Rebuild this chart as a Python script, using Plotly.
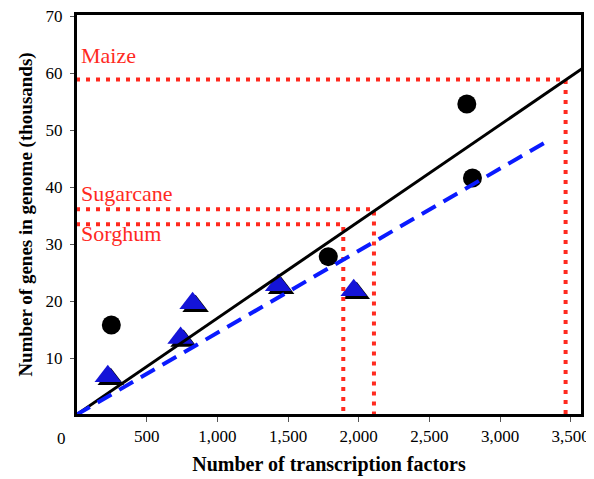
import plotly.graph_objects as go

# ---- data ----
circle_tf = [250, 1785, 2765, 2805]
circle_genes = [15.8, 27.8, 54.6, 41.6]

triangle_tf = [225, 740, 825, 1430, 1965]
triangle_genes = [6.8, 13.5, 19.6, 22.8, 21.9]

fit_all_x = [0, 3580]
fit_all_y = [0, 60.8]
fit_tri_x = [0, 3350]
fit_tri_y = [0, 48.3]

crop_names = ["Maize", "Sugarcane", "Sorghum"]
crop_tf = [3464, 2108, 1891]
crop_genes = [58.9, 36.1, 33.5]
label_y = [63.2, 38.9, 31.8]

x_ticks = [500, 1000, 1500, 2000, 2500, 3000, 3500]
x_tick_text = ["500", "1,000", "1,500", "2,000", "2,500", "3,000", "3,500"]
y_ticks = [10, 20, 30, 40, 50, 60, 70]

X_RANGE = [0, 3580]
Y_RANGE = [0, 70.4]
# page body has an 8px margin, so the figure is shrunk by 8px and margins shifted
W, H = 586, 471
ML, MR, MT, MB = 68, 12, 6, 64

FONT = "Liberation Serif"
RED = "#ff2a1f"
BLUE = "#0a1aff"

# pixel offset of the triangle shadow, converted to data units
px_x = (X_RANGE[1] - X_RANGE[0]) / (W - ML - MR)
px_y = (Y_RANGE[1] - Y_RANGE[0]) / (H - MT - MB)
shadow_x = [v + 3 * px_x for v in triangle_tf]
shadow_y = [v - 3 * px_y for v in triangle_genes]

fig = go.Figure()

# triangle shadows + triangles
fig.add_trace(go.Scatter(x=shadow_x, y=shadow_y, mode="markers",
                         marker=dict(symbol="triangle-up", size=23, color="black"),
                         hoverinfo="skip"))
fig.add_trace(go.Scatter(x=triangle_tf, y=triangle_genes, mode="markers",
                         marker=dict(symbol="triangle-up", size=23, color="#1414d8",
                                     line=dict(width=0))))
# circles
fig.add_trace(go.Scatter(x=circle_tf, y=circle_genes, mode="markers",
                         marker=dict(symbol="circle", size=19, color="black")))

# red dotted guide lines
for name, cx, cy in zip(crop_names, crop_tf, crop_genes):
    fig.add_trace(go.Scatter(x=[0, cx, cx], y=[cy, cy, 0], mode="lines",
                             line=dict(color=RED, width=4, dash="4px,6px"),
                             hoverinfo="skip"))

# regression lines
fig.add_trace(go.Scatter(x=fit_all_x, y=fit_all_y, mode="lines",
                         line=dict(color="black", width=3)))
fig.add_trace(go.Scatter(x=fit_tri_x, y=fit_tri_y, mode="lines",
                         line=dict(color=BLUE, width=4, dash="16px,9px")))

# crop labels
for name, ly in zip(crop_names, label_y):
    fig.add_annotation(x=0, y=ly, xref="x", yref="y", text=name, showarrow=False,
                       xanchor="left", yanchor="middle", xshift=3,
                       font=dict(family=FONT, size=22, color=RED))

# "0" label at the origin, left of the corner
fig.add_annotation(x=0, y=0, xref="x", yref="y", text="0", showarrow=False,
                   xanchor="center", yanchor="top", xshift=-15, yshift=-12,
                   font=dict(family=FONT, size=17, color="black"))

# frame around the plot area
fig.add_shape(type="rect", xref="paper", yref="paper", x0=0, x1=1, y0=0, y1=1,
              line=dict(color="black", width=2), layer="above")

fig.update_layout(
    width=W, height=H,
    margin=dict(l=ML, r=MR, t=MT, b=MB),
    paper_bgcolor="white", plot_bgcolor="white",
    showlegend=False,
    font=dict(family=FONT, size=17, color="black"),
    xaxis=dict(range=X_RANGE, tickvals=x_ticks, ticktext=x_tick_text, automargin=False,
               ticklabeloverflow="allow",
               showgrid=False, zeroline=False, showline=True, mirror=True,
               linecolor="black", linewidth=2, ticks="outside", ticklen=5,
               tickcolor="#555", tickwidth=1,
               tickfont=dict(family=FONT, size=17),
               title=dict(text="Number of transcription factors",
                          font=dict(family=FONT, size=20, weight="bold"), standoff=12)),
    yaxis=dict(range=Y_RANGE, tickvals=y_ticks, automargin=False,
               ticklabeloverflow="allow",
               showgrid=False, zeroline=False, showline=True, mirror=True,
               linecolor="black", linewidth=2, ticks="outside", ticklen=4,
               tickcolor="#555", tickwidth=1,
               tickfont=dict(family=FONT, size=17), ticklabelstandoff=4,
               title=dict(text="Number of genes in genome (thousands)",
                          font=dict(family=FONT, size=19, weight="bold"), standoff=8)),
)

fig.write_html("out.html")
